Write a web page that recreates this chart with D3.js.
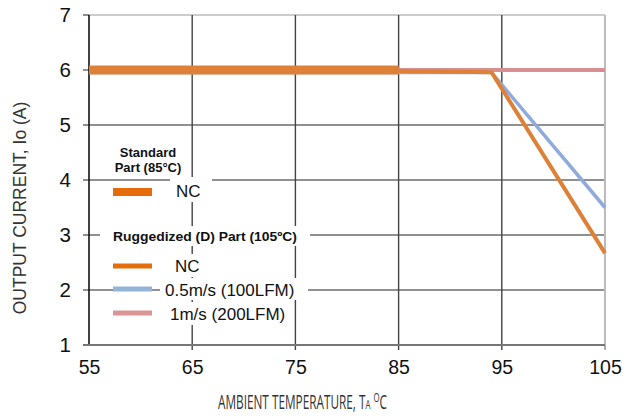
<!DOCTYPE html>
<html><head><meta charset="utf-8">
<script src="https://cdn.jsdelivr.net/npm/d3@7"></script>
<style>body{margin:0;background:#fff}svg{display:block}</style>
</head><body>
<svg id="c" width="636" height="416"></svg>
<script>
const xTicks = [55, 65, 75, 85, 95, 105];
const yTicks = [1, 2, 3, 4, 5, 6, 7];
const stdNC_T = [55, 85];
const stdNC_I = [6, 6];
const rugNC_T = [55, 85, 94, 105];
const rugNC_I = [6, 5.98, 5.96, 2.67];
const air05_T = [55, 94, 105];
const air05_I = [5.955, 5.955, 3.5];
const air1_T = [55, 105];
const air1_I = [6, 6];
const legendTitleStd = ["Standard", "Part (85°C)"];
const legendTitleRug = "Ruggedized (D) Part (105ºC)";
const legendLabels = ["NC", "NC", "0.5m/s (100LFM)", "1m/s (200LFM)"];

const svg = d3.select("#c");
const x = d3.scaleLinear().domain([55, 105]).range([89, 605]);
const y = d3.scaleLinear().domain([1, 7]).range([345, 15]);
const F = "'Liberation Sans', Arial, sans-serif";

// horizontal gridlines
svg.append("g").selectAll("line").data(yTicks.filter(v => v > 1 && v < 7)).join("line")
  .attr("x1", 83).attr("x2", x(105)).attr("y1", d => y(d)).attr("y2", d => y(d))
  .attr("stroke", "#222").attr("stroke-width", 1.2);
// top border
svg.append("line").attr("x1", x(55)).attr("x2", x(105)).attr("y1", y(7)).attr("y2", y(7))
  .attr("stroke", "#bbb").attr("stroke-width", 1.5);
svg.append("line").attr("x1", 83).attr("x2", x(55)).attr("y1", y(7)).attr("y2", y(7))
  .attr("stroke", "#444").attr("stroke-width", 1.2);
// vertical gridlines
svg.append("g").selectAll("line").data(xTicks.filter(v => v > 55 && v < 105)).join("line")
  .attr("x1", d => x(d)).attr("x2", d => x(d)).attr("y1", y(7)).attr("y2", 350)
  .attr("stroke", "#444").attr("stroke-width", 1.4);
// right border
svg.append("line").attr("x1", x(105)).attr("x2", x(105)).attr("y1", y(7)).attr("y2", y(1))
  .attr("stroke", "#bbb").attr("stroke-width", 2);
svg.append("line").attr("x1", x(105)).attr("x2", x(105)).attr("y1", y(1)).attr("y2", 350)
  .attr("stroke", "#888").attr("stroke-width", 1.4);

// legend background boxes (cover gridlines)
const boxes = [[108,143,80,32],[170,177,42,25],[100,226,210,20],[170,254,34,23],[160,278,148,22],[165,302,127,23]];
svg.append("g").selectAll("rect").data(boxes).join("rect")
  .attr("x", d => d[0]).attr("y", d => d[1]).attr("width", d => d[2]).attr("height", d => d[3])
  .attr("fill", "#fff");

// left axis line and bottom axis
svg.append("line").attr("x1", x(55)).attr("x2", x(55)).attr("y1", y(7)).attr("y2", y(1))
  .attr("stroke", "#111").attr("stroke-width", 1.6);
svg.append("line").attr("x1", 83).attr("x2", x(105)).attr("y1", y(1)).attr("y2", y(1))
  .attr("stroke", "#777").attr("stroke-width", 2);

// axes labels via d3 axes
const yAxis = svg.append("g").attr("transform", "translate(89,0)")
  .call(d3.axisLeft(y).tickValues(yTicks).tickFormat(d3.format("d")).tickSize(0).tickPadding(18));
yAxis.select(".domain").remove();
yAxis.selectAll("text").attr("font-family", F).attr("font-size", 20.5).attr("fill", "#111");
const xAxis = svg.append("g").attr("transform", `translate(0,${y(1)})`)
  .call(d3.axisBottom(x).tickValues(xTicks).tickFormat(d3.format("d")).tickSize(0).tickPadding(15));
xAxis.select(".domain").remove();
xAxis.selectAll("text").attr("font-family", F).attr("font-size", 19.5).attr("fill", "#111");

// series
const line = d3.line().x(d => x(d[0])).y(d => y(d[1]));
const zipS = (a, b) => a.map((v, i) => [v, b[i]]);
svg.append("path").datum(zipS(air1_T, air1_I)).attr("d", line)
  .attr("fill", "none").attr("stroke", "#D69092").attr("stroke-width", 4);
svg.append("path").datum(zipS(air05_T, air05_I)).attr("d", line)
  .attr("fill", "none").attr("stroke", "#8FAADC").attr("stroke-width", 3.5);
svg.append("path").datum(zipS(rugNC_T, rugNC_I)).attr("d", line)
  .attr("fill", "none").attr("stroke", "#DE8138").attr("stroke-width", 4);
svg.append("path").datum(zipS(stdNC_T, stdNC_I)).attr("d", line)
  .attr("fill", "none").attr("stroke", "#DE8138").attr("stroke-width", 9);

// legend
const lg = svg.append("g").attr("font-family", F);
lg.selectAll("text.st").data(legendTitleStd).join("text").attr("class", "st")
  .attr("x", 148).attr("y", (d, i) => 157 + i * 15).attr("text-anchor", "middle")
  .attr("font-size", 13).attr("font-weight", "bold").attr("fill", "#111").text(d => d);
lg.append("text").attr("x", 113).attr("y", 241).attr("font-size", 13.5).attr("font-weight", "bold")
  .attr("fill", "#111").attr("textLength", 184).attr("lengthAdjust", "spacingAndGlyphs").text(legendTitleRug);
const swatches = [
  {y: 192, h: 8, c: "#E46C0A"},
  {y: 266, h: 5, c: "#E46C0A"},
  {y: 289, h: 5, c: "#95B3D7"},
  {y: 313, h: 5, c: "#D99694"}
];
lg.selectAll("rect.sw").data(swatches).join("rect").attr("class", "sw")
  .attr("x", 113).attr("width", 39).attr("y", d => d.y - d.h / 2).attr("height", d => d.h).attr("fill", d => d.c);
const labelPos = [[176, 197], [175, 272], [165, 296], [170, 320]];
lg.selectAll("text.lb").data(legendLabels).join("text").attr("class", "lb")
  .attr("x", (d, i) => labelPos[i][0]).attr("y", (d, i) => labelPos[i][1])
  .attr("font-size", 17).attr("fill", "#111").text(d => d);

// axis titles
svg.append("text").attr("transform", "translate(26,208) rotate(-90)").attr("text-anchor", "middle")
  .attr("font-family", F).attr("font-size", 17.5).attr("fill", "#333").text("OUTPUT CURRENT, Io (A)");
const xg = svg.append("g");
const xt = xg.append("text").attr("x", 0).attr("y", 0)
  .attr("font-family", "'Open Sans', sans-serif").attr("font-size", 19.5).attr("fill", "#333");
xt.append("tspan").text("AMBIENT TEMPERATURE, T");
xt.append("tspan").attr("font-size", 13).text("A");
xt.append("tspan").text(" ");
xt.append("tspan").attr("font-size", 13).attr("dy", -7).text("O");
xt.append("tspan").attr("dy", 7).text("C");
const bw = xt.node().getBBox().width;
const sx = 169 / bw;
xg.attr("transform", `translate(218,409) scale(${sx},1)`);
</script>
</body></html>
